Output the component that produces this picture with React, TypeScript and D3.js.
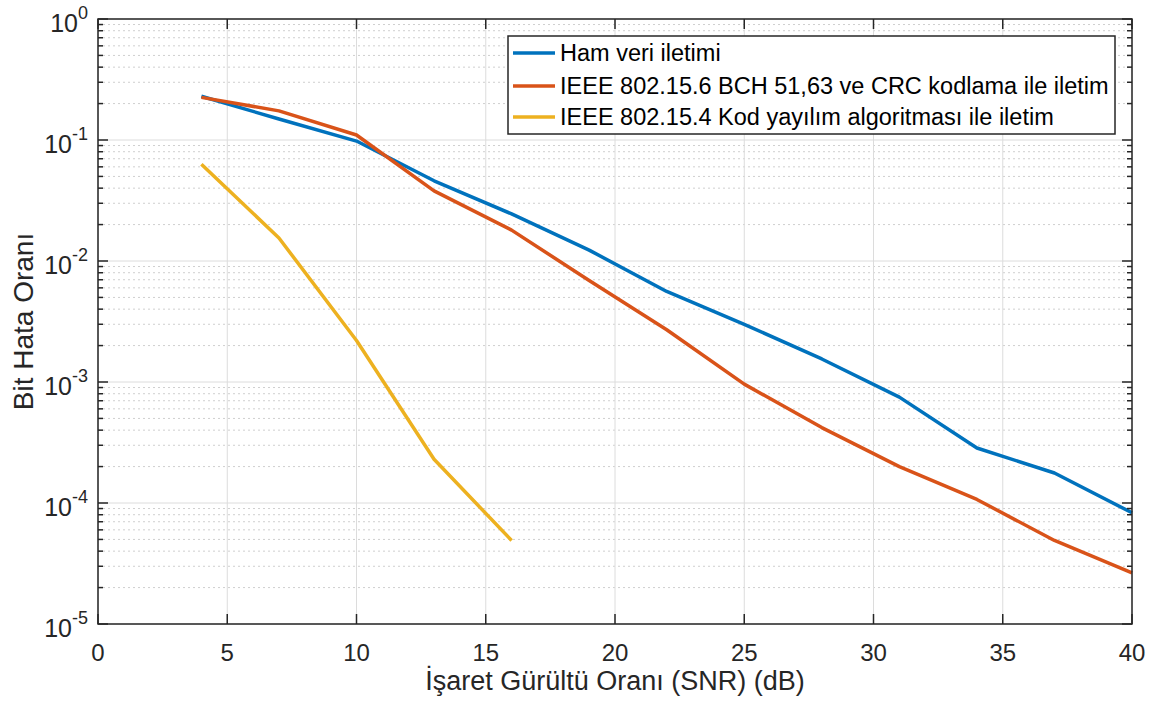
import * as d3 from 'd3';

const snr = [4, 7, 10, 13, 16, 19, 22, 25, 28, 31, 34, 37, 40];
const hamVeri = [0.23, 0.149, 0.098, 0.046, 0.0245, 0.0123, 0.0056, 0.003, 0.00155, 0.00075, 0.000285, 0.000177, 0.000083];
const bchCrc = [0.225, 0.174, 0.11, 0.038, 0.018, 0.0069, 0.0027, 0.00096, 0.00042, 0.0002, 0.000107, 0.000049, 0.0000265];
const snrKod = [4, 7, 10, 13, 16];
const kodYayilim = [0.063, 0.0155, 0.0022, 0.00023, 0.000049];

const xTicks = [0, 5, 10, 15, 20, 25, 30, 35, 40];
const yExponents = [0, -1, -2, -3, -4, -5];

const seriesLabels = [
  'Ham veri iletimi',
  'IEEE 802.15.6 BCH 51,63 ve CRC kodlama ile iletim',
  'IEEE 802.15.4 Kod yayılım algoritması ile iletim',
];
const seriesColors = ['#0072BD', '#D95319', '#EDB120'];

const W = 1159;
const H = 715;
const m = { left: 98, right: 1132, top: 19, bottom: 624 };
const font = '"Liberation Sans", Arial, sans-serif';
const axisColor = '#262626';

export default function App() {
  const x = d3.scaleLinear().domain([0, 40]).range([m.left, m.right]);
  const y = d3.scaleLog().domain([1e-5, 1]).range([m.bottom, m.top]);

  const minorY: number[] = [];
  yExponents.slice(1).forEach((e) => {
    for (let k = 2; k <= 9; k++) minorY.push(k * Math.pow(10, e));
  });

  const line = d3.line<[number, number]>().x((d) => x(d[0])).y((d) => y(d[1]));
  const series: [number, number][][] = [
    snr.map((s, i) => [s, hamVeri[i]]),
    snr.map((s, i) => [s, bchCrc[i]]),
    snrKod.map((s, i) => [s, kodYayilim[i]]),
  ];

  const lg = { x: 508, y: 36, w: 607, h: 98 };
  const rowY = [53, 86, 117];

  return (
    <div style={{ position: 'absolute', left: 0, top: 0, width: W, height: H, background: '#fff' }}>
      <svg width={W} height={H} style={{ display: 'block', fontFamily: font }}>
        <rect x={0} y={0} width={W} height={H} fill="#fff" />
        {/* minor grid */}
        {minorY.map((v, i) => (
          <line key={'mg' + i} x1={m.left} x2={m.right} y1={y(v)} y2={y(v)}
            stroke="#cfcfcf" strokeWidth={1} strokeDasharray="2,3" />
        ))}
        {/* major grid */}
        {yExponents.map((e) => (
          <line key={'yg' + e} x1={m.left} x2={m.right} y1={y(Math.pow(10, e))} y2={y(Math.pow(10, e))}
            stroke="#dcdcdc" strokeWidth={1} />
        ))}
        {xTicks.map((t) => (
          <line key={'xg' + t} x1={x(t)} x2={x(t)} y1={m.top} y2={m.bottom} stroke="#dcdcdc" strokeWidth={1} />
        ))}

        {/* data lines */}
        {series.map((s, i) => (
          <path key={'s' + i} d={line(s) ?? ''} fill="none" stroke={seriesColors[i]} strokeWidth={3.5}
            strokeLinejoin="round" />
        ))}

        {/* axes box */}
        <rect x={m.left} y={m.top} width={m.right - m.left} height={m.bottom - m.top}
          fill="none" stroke={axisColor} strokeWidth={1.5} />
        {/* x ticks */}
        {xTicks.map((t) => (
          <g key={'xt' + t}>
            <line x1={x(t)} x2={x(t)} y1={m.bottom} y2={m.bottom - 10} stroke={axisColor} strokeWidth={1.5} />
            <line x1={x(t)} x2={x(t)} y1={m.top} y2={m.top + 10} stroke={axisColor} strokeWidth={1.5} />
            <text x={x(t)} y={661} textAnchor="middle" fontSize={24} fill={axisColor}>{t}</text>
          </g>
        ))}
        {/* y ticks */}
        {yExponents.map((e) => {
          const yy = y(Math.pow(10, e));
          return (
            <g key={'yt' + e}>
              <line x1={m.left} x2={m.left + 10} y1={yy} y2={yy} stroke={axisColor} strokeWidth={1.5} />
              <line x1={m.right} x2={m.right - 10} y1={yy} y2={yy} stroke={axisColor} strokeWidth={1.5} />
              <text x={88} y={yy + 13} textAnchor="end" fontSize={25} fill={axisColor}>
                10<tspan dy={-13} fontSize={18}>{e}</tspan>
              </text>
            </g>
          );
        })}
        {minorY.map((v, i) => (
          <g key={'ym' + i}>
            <line x1={m.left} x2={m.left + 5} y1={y(v)} y2={y(v)} stroke={axisColor} strokeWidth={1.5} />
            <line x1={m.right} x2={m.right - 5} y1={y(v)} y2={y(v)} stroke={axisColor} strokeWidth={1.5} />
          </g>
        ))}

        {/* axis labels */}
        <text x={(m.left + m.right) / 2} y={690} textAnchor="middle" fontSize={27} fill={axisColor}>
          İşaret Gürültü Oranı (SNR) (dB)
        </text>
        <text transform={`translate(33,${(m.top + m.bottom) / 2}) rotate(-90)`} textAnchor="middle"
          fontSize={28} fill={axisColor}>
          Bit Hata Oranı
        </text>

        {/* legend */}
        <rect x={lg.x} y={lg.y} width={lg.w} height={lg.h} fill="#fff" stroke={axisColor} strokeWidth={1.5} />
        {seriesLabels.map((lab, i) => (
          <g key={'lg' + i}>
            <line x1={513} x2={555} y1={rowY[i]} y2={rowY[i]} stroke={seriesColors[i]} strokeWidth={3.5} />
            <text x={560} y={rowY[i] + 8} fontSize={23.5} fill="#000">{lab}</text>
          </g>
        ))}
      </svg>
    </div>
  );
}
